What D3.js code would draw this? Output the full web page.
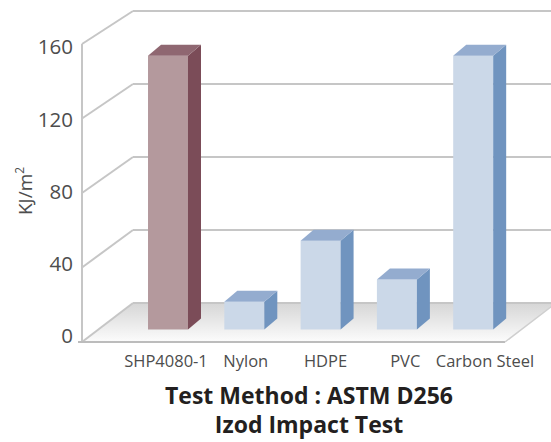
<!DOCTYPE html>
<html>
<head>
<meta charset="utf-8">
<script src="https://cdn.jsdelivr.net/npm/d3@7"></script>
<style>
  html, body { margin: 0; padding: 0; background: #fff; }
  svg { display: block; font-family: "Open Sans", "Noto Sans", sans-serif; }
</style>
</head>
<body>
<svg id="chart" width="551" height="442"></svg>
<script>
/// data ///
const categories = ["SHP4080-1", "Nylon", "HDPE", "PVC", "Carbon Steel"];
const values = [148, 15, 48, 27, 148];
const yTicks = [0, 40, 80, 120, 160];
const titleLines = ["Test Method : ASTM D256", "Izod Impact Test"];

/// constants ///
const width = 551, height = 442;
const wallFront = { x: 82 };          // front-left corner of the 3d box
const depth = { dx: 51 };             // how far back the back wall sits
const barDepth = { dx: 13, dy: -11 }; // thickness of each bar
const gridColour = "#c6c6c6";
const labelColour = "#4d4d4d";
const highlight = { front: "#b4999d", side: "#7b4c58", top: "#8f6771" };
const normal = { front: "#cbd8e8", side: "#7094bf", top: "#94accf" };

const svg = d3.select("#chart");

/// scales ///
// front plane and back wall of the box
const yFront = d3.scaleLinear().domain([0, 160]).range([342, 44]);
const yBack = d3.scaleLinear().domain([0, 160]).range([303, 11]);
// plane the bars' front faces sit on
const yBar = d3.scaleLinear().domain([0, 160]).range([329.5, 33.5]);
const yLabel = d3.scaleLinear().domain([0, 160]).range([336, 47]);

const xBar = d3.scaleBand()
  .domain(categories)
  .range([111.7, 529.5])
  .paddingInner(0.476)
  .paddingOuter(0.476);
const xLabel = d3.scalePoint()
  .domain(categories)
  .range([166, 485]);

const floorRight = 505;

/// floor ///
const defs = svg.append("defs");
const grad = defs.append("linearGradient")
  .attr("id", "floorGrad")
  .attr("x1", 0).attr("y1", 0).attr("x2", 0).attr("y2", 1);
grad.append("stop").attr("offset", "0%").attr("stop-color", "#d6d6d6");
grad.append("stop").attr("offset", "100%").attr("stop-color", "#fcfcfc");

svg.append("polygon")
  .attr("points", [
    [wallFront.x, yFront(0)],
    [floorRight, yFront(0)],
    [floorRight + depth.dx, yBack(0)],
    [wallFront.x + depth.dx, yBack(0)]
  ].map(p => p.join(",")).join(" "))
  .attr("fill", "url(#floorGrad)");

/// back wall gridlines + left wall diagonals ///
const grid = svg.append("g")
  .attr("fill", "none")
  .attr("stroke", gridColour)
  .attr("stroke-width", 2);

grid.selectAll(".back-grid")
  .data(yTicks)
  .join("line")
  .attr("x1", wallFront.x + depth.dx)
  .attr("x2", width + 10)
  .attr("y1", d => yBack(d))
  .attr("y2", d => yBack(d));

grid.selectAll(".side-grid")
  .data(yTicks)
  .join("line")
  .attr("x1", wallFront.x)
  .attr("y1", d => yFront(d))
  .attr("x2", wallFront.x + depth.dx)
  .attr("y2", d => yBack(d));

// front vertical axis line
grid.append("line")
  .attr("x1", wallFront.x).attr("x2", wallFront.x)
  .attr("y1", yFront(160)).attr("y2", yFront(0));

// front edge of the floor
grid.append("line")
  .attr("x1", wallFront.x - 4).attr("x2", floorRight)
  .attr("y1", yFront(0)).attr("y2", yFront(0))
  .attr("stroke", "#bcbcbc");
grid.append("line")
  .attr("x1", floorRight).attr("y1", yFront(0))
  .attr("x2", floorRight + depth.dx).attr("y2", yBack(0))
  .attr("stroke", "#cfcfcf")
  .attr("stroke-width", 1.5);

/// bars ///
const barData = categories.map((c, i) => ({ name: c, value: values[i], first: i === 0 }));
const bars = svg.append("g")
  .selectAll("g")
  .data(barData)
  .join("g");

const pts = arr => arr.map(p => p.join(",")).join(" ");

bars.append("rect")
  .attr("x", d => xBar(d.name))
  .attr("y", d => yBar(d.value))
  .attr("width", xBar.bandwidth())
  .attr("height", d => yBar(0) - yBar(d.value))
  .attr("fill", d => d.first ? highlight.front : normal.front);

bars.append("polygon")
  .attr("points", d => {
    const x = xBar(d.name) + xBar.bandwidth();
    return pts([
      [x, yBar(d.value)],
      [x + barDepth.dx, yBar(d.value) + barDepth.dy],
      [x + barDepth.dx, yBar(0) + barDepth.dy],
      [x, yBar(0)]
    ]);
  })
  .attr("fill", d => d.first ? highlight.side : normal.side);

bars.append("polygon")
  .attr("points", d => {
    const x = xBar(d.name), y = yBar(d.value), w = xBar.bandwidth();
    return pts([
      [x, y],
      [x + barDepth.dx, y + barDepth.dy],
      [x + w + barDepth.dx, y + barDepth.dy],
      [x + w, y]
    ]);
  })
  .attr("fill", d => d.first ? highlight.top : normal.top);

/// tick labels ///
svg.append("g")
  .selectAll("text")
  .data(yTicks)
  .join("text")
  .attr("x", 73)
  .attr("y", d => yLabel(d))
  .attr("dy", "0.36em")
  .attr("text-anchor", "end")
  .attr("font-size", 20.5)
  .attr("fill", labelColour)
  .text(d => d);

svg.append("g")
  .selectAll("text")
  .data(categories)
  .join("text")
  .attr("x", d => xLabel(d))
  .attr("y", 367)
  .attr("text-anchor", "middle")
  .attr("font-size", 16.5)
  .attr("fill", labelColour)
  .text(d => d);

// y axis title
const yTitle = svg.append("text")
  .attr("transform", "translate(32,191) rotate(-90)")
  .attr("text-anchor", "middle")
  .attr("font-size", 19)
  .attr("fill", labelColour);
yTitle.append("tspan").text("KJ/m");
yTitle.append("tspan").attr("font-size", 12).attr("dy", -8).text("2");

/// title ///
svg.append("g")
  .selectAll("text")
  .data(titleLines)
  .join("text")
  .attr("x", 309)
  .attr("y", (d, i) => 404 + i * 29)
  .attr("text-anchor", "middle")
  .attr("font-size", 23)
  .attr("font-weight", "bold")
  .attr("fill", "#231f20")
  .text(d => d);
</script>
</body>
</html>
